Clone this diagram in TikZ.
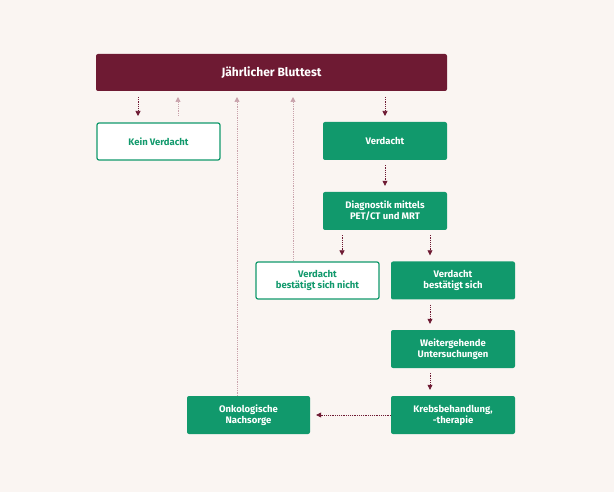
\documentclass[tikz,border=0pt]{standalone}
\usepackage{fontspec}
\setmainfont{Fira Sans}
\usetikzlibrary{arrows.meta}
\definecolor{wine}{HTML}{6E1A33}
\definecolor{leaf}{HTML}{11996C}
\definecolor{rose}{HTML}{C9A3AC}
\definecolor{paper}{HTML}{FAF5F2}
\begin{document}
\begin{tikzpicture}[x=1pt,y=-1pt,
  box/.style={rounded corners=2pt,minimum width=124pt,minimum height=38pt,align=center,
    font=\fontsize{9.5}{11}\selectfont\bfseries,text=white,fill=leaf,inner sep=0pt},
  open box/.style={box,fill=white,draw=leaf,line width=1.2pt,text=leaf},
  dk/.style={wine,line width=0.7pt,dash pattern=on 1.2pt off 1pt,-{Triangle[width=5pt,length=5pt]}},
  lt/.style={dk,rose}]
\fill[paper] (0,0) rectangle (614,492);
\useasboundingbox (0,0) rectangle (614,492);

\node[box,fill=wine,minimum width=351pt,minimum height=37pt,font=\fontsize{12}{14}\selectfont\bfseries] (test) at (271.5,72.5) {Jährlicher Bluttest};
\node[open box,minimum width=123pt,minimum height=37pt] (kein) at (158.5,141.5) {Kein Verdacht};
\node[box] (verd) at (385,141) {Verdacht};
\node[box] (diag) at (385,211) {Diagnostik mittels\\PET/CT und MRT};
\node[open box,minimum width=123pt,minimum height=37pt] (nicht) at (317.5,280.5) {Verdacht\\bestätigt sich nicht};
\node[box] (sich) at (453,280.5) {Verdacht\\bestätigt sich};
\node[box] (weiter) at (453,349) {Weitergehende\\Untersuchungen};
\node[box] (krebs) at (453,415) {Krebsbehandlung,\\-therapie};
\node[box,minimum width=123pt] (onko) at (248.5,415) {Onkologische\\Nachsorge};

% Pfeile
\coordinate (t1) at (138,97);  \coordinate (k1) at (138,116);
\coordinate (t2) at (178,97);  \coordinate (k2) at (178,116);
\coordinate (t3) at (237,97);
\coordinate (t4) at (293,97);
\coordinate (t5) at (385,97);  \coordinate (v1) at (385,116);
\draw[dk] (t1) -- (k1);
\draw[lt] (k2) -- (t2);
\draw[lt] (onko.north -| t3) -- (t3);
\draw[lt] (nicht.north -| t4) -- (t4);
\draw[dk] (t5) -- (v1);
\draw[dk,shorten <=5pt,shorten >=6pt] (verd) -- (diag);
\draw[dk,shorten <=5pt,shorten >=6pt] ([xshift=-43pt]diag.south) -- ([xshift=24.5pt]nicht.north);
\draw[dk,shorten <=5pt,shorten >=6pt] ([xshift=45pt]diag.south) -- ([xshift=-23pt]sich.north);
\draw[dk,shorten <=5pt,shorten >=6pt] ([xshift=-23pt]sich.south) -- ([xshift=-23pt]weiter.north);
\draw[dk,shorten <=5pt,shorten >=6pt] ([xshift=-23pt]weiter.south) -- ([xshift=-23pt]krebs.north);
\draw[dk,shorten >=6pt] (krebs) -- (onko);
\end{tikzpicture}
\end{document}
